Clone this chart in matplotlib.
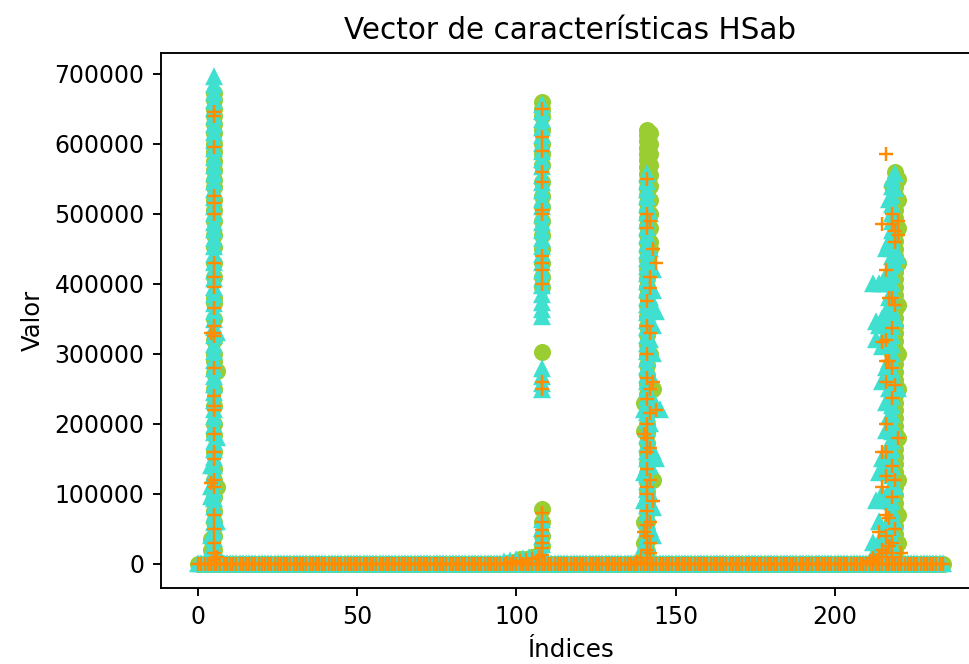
import matplotlib
matplotlib.use("Agg")
import matplotlib.pyplot as plt

# indices of the feature vector
indices = list(range(0, 235))

# non-zero values (in thousands) read per index, everything else is 0
green_vals = {
    4: [35, 20],
    5: [672, 662, 650, 640, 628, 615, 600, 588, 575, 562, 548, 538, 520, 505, 490, 470,
        452, 430, 410, 380, 372, 350, 320, 300, 290, 272, 250, 225, 200, 184, 160, 135,
        120, 95, 75, 60, 40, 20],
    6: [275, 110],
    97: [1], 99: [3], 101: [6], 103: [7], 105: [9], 106: [11],
    108: [660, 650, 640, 620, 600, 585, 570, 545, 525, 510, 490, 470, 450, 430, 410, 395,
          303, 78, 60, 40, 25],
    139: [5],
    140: [230, 190, 60, 30],
    141: [620, 612, 603, 594, 585, 576, 566, 556, 546, 536, 526, 515, 504, 493, 482, 470,
          458, 446, 434, 421, 408, 395, 382, 368, 354, 340, 326, 312, 298, 284, 270, 256,
          242, 228, 214, 200, 186, 172, 158, 144, 130, 116, 102, 88, 74, 60, 46, 32, 18, 6],
    142: [615, 600, 585, 570, 555, 540, 520, 500, 480, 460, 450, 300, 220],
    143: [250, 120],
    218: [540, 300, 150, 60],
    219: [560, 549, 538, 527, 516, 505, 494, 483, 472, 461, 450, 439, 428, 417, 406, 395,
          384, 373, 362, 351, 340, 329, 318, 307, 296, 285, 274, 263, 252, 241, 230, 219,
          208, 197, 186, 175, 164, 153, 142, 131, 120, 109, 98, 87, 76, 65, 54, 43, 32, 21, 10],
    220: [550, 520, 480, 430, 370, 300, 250, 180, 120, 70, 30],
}

teal_vals = {
    4: [140, 110, 95, 40, 20, 8],
    5: [695, 684, 672, 661, 650, 638, 626, 615, 603, 592, 580, 568, 557, 545, 534, 522,
        510, 499, 487, 476, 464, 452, 441, 429, 418, 406, 394, 383, 371, 360, 348, 336,
        325, 313, 302, 290, 278, 267, 255, 244, 232, 220, 209, 197, 186, 174, 162, 151,
        139, 128, 116, 104, 93, 81, 70, 58, 46, 35, 23, 12],
    6: [330, 180, 60, 15],
    96: [2], 98: [4], 100: [5], 102: [7], 104: [8], 106: [10], 107: [12],
    108: [655, 645, 634, 622, 611, 600, 588, 577, 566, 554, 543, 532, 520, 509, 498, 486,
          475, 464, 452, 441, 430, 418, 407, 396, 384, 372, 362, 352, 278, 266, 256, 248,
          62, 50, 38, 26, 15],
    140: [220, 130, 90, 25],
    141: [556, 545, 534, 523, 512, 501, 490, 479, 468, 457, 446, 435, 424, 413, 402, 391,
          380, 369, 358, 347, 336, 325, 314, 303, 292, 281, 270, 259, 248, 237, 226, 215,
          204, 193, 182, 171, 160, 149, 138, 127, 116, 105, 94, 83, 72, 61, 50, 39, 28, 17, 6],
    142: [500, 450, 380, 320, 270, 200, 140, 100, 50],
    143: [420, 390, 340, 300, 160, 80, 40],
    144: [360, 225, 150],
    145: [220],
    212: [400, 30, 10],
    213: [345, 320, 90, 20],
    214: [400, 340, 130, 60, 30],
    215: [400, 350, 310, 260, 150, 100, 40, 20],
    216: [450, 400, 360, 330, 280, 230, 190, 140, 90, 50, 25],
    217: [520, 460, 420, 380, 340, 290, 250, 210, 170, 130, 100, 60, 40],
    218: [550, 538, 525, 512, 500, 488, 475, 462, 450, 438, 425, 412, 400, 388, 375, 362,
          350, 338, 325, 312, 300, 288, 275, 262, 250, 238, 225, 212, 200, 188, 175, 162,
          150, 138, 125, 112, 100, 88, 75, 62, 50, 38, 25, 12],
    219: [556, 535, 430, 350, 260, 190, 110, 60],
    220: [440, 250],
}

orange_vals = {
    4: [330, 115],
    5: [645, 640, 595, 525, 515, 500, 430, 410, 395, 365, 340, 330, 325, 280, 240, 225,
        220, 185, 160, 150, 120, 110, 70, 50, 30, 15, 5],
    6: [10],
    97: [1], 99: [2], 101: [4], 103: [5], 105: [7], 107: [10],
    108: [650, 610, 590, 560, 545, 505, 500, 440, 430, 420, 400, 260, 250, 72, 60, 48, 40,
          30, 22, 12],
    138: [3], 139: [8],
    140: [185, 45],
    141: [550, 500, 480, 375, 340, 300, 265, 235, 200, 180, 160, 135, 110, 100, 75, 55,
          40, 20, 8],
    142: [490, 410, 393, 330, 250, 215, 165, 120, 60, 30, 15],
    143: [450, 260, 90],
    144: [430, 220],
    211: [4], 212: [8], 213: [5],
    214: [45, 10],
    215: [485, 317, 160, 110, 20],
    216: [585, 420, 320, 290, 260, 200, 160, 125, 70, 40, 15],
    217: [380, 290, 65, 25],
    218: [500, 485, 380, 336, 280, 236, 140, 95, 30, 10],
    219: [475, 460, 370, 255, 120, 50],
    220: [490, 470, 180],
    221: [15],
}


def flatten(vals):
    xs, ys = [], []
    for i, v in vals.items():
        for y in v:
            xs.append(i)
            ys.append(y * 1000)
    return xs, ys


s = 1.7
plt.rcParams['font.size'] = 10 * s

fig = plt.figure(figsize=(9.7, 6.64), dpi=100)
# the original picture is cut on the right, its right spine is not shown
ax = fig.add_axes([161 / 970, 76 / 664, 819 / 970, 535.3 / 664])

zeros = [0] * len(indices)
series = [(green_vals, 'o', 'yellowgreen'),
          (teal_vals, '^', 'turquoise'),
          (orange_vals, '+', 'darkorange')]
for vals, mk, col in series:
    xs, ys = flatten(vals)
    ax.plot(indices + xs, zeros + ys, mk, color=col, markersize=6 * 1.75,
            markeredgewidth=1.0 * 1.75)

ax.set_title('Vector de características HSab', fontsize=12 * 1.77, pad=6 * s)
ax.set_xlabel('Índices', fontsize=10 * 1.77, labelpad=4 * s)
ax.set_ylabel('Valor', fontsize=10 * 1.75, labelpad=4 * s)
ax.set_xticks([0, 50, 100, 150, 200])
ax.set_yticks([0, 100000, 200000, 300000, 400000, 500000, 600000, 700000])
ax.tick_params(length=3.5 * s, width=0.8 * s, pad=3.5 * s)
for sp in ax.spines.values():
    sp.set_linewidth(0.8 * s)
ax.spines['right'].set_visible(False)

fig.savefig('out.png', dpi=100)
